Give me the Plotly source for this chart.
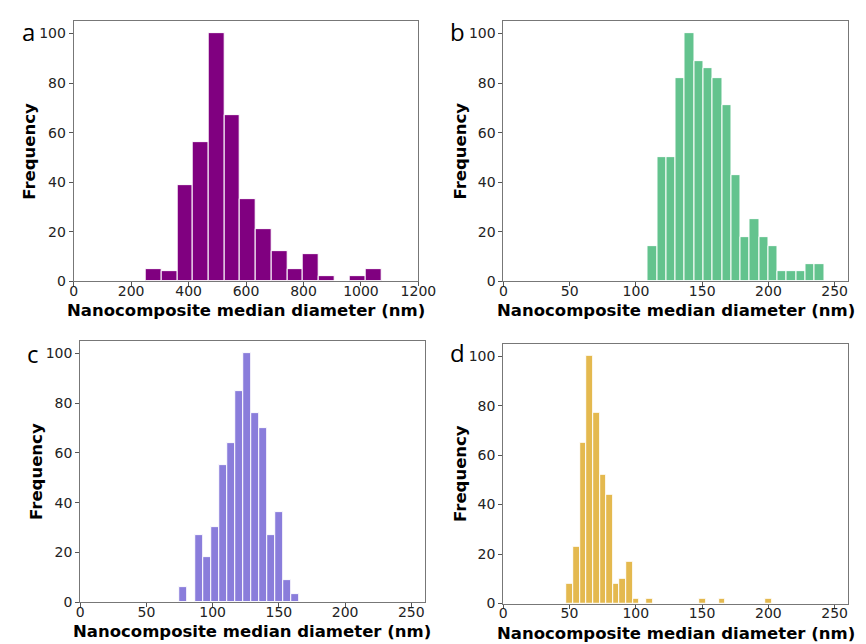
import plotly.graph_objects as go

W, H = 866, 644

# ---- data (histogram counts) ----
a_bin_start, a_bin_width = 251.0, 54.7
a_counts = [5, 4, 39, 56, 100, 67, 33, 21, 12, 5, 11, 2, 0, 2, 5]

b_bin_start, b_bin_width = 109.0, 7.0
b_counts = [14, 50, 50, 82, 100, 89, 86, 82, 71, 43, 18, 25, 18, 14, 4, 4, 4, 7, 7]

c_bin_start, c_bin_width = 75.0, 6.0
c_counts = [6, 0, 27, 18, 30, 55, 64, 85, 100, 76, 70, 27, 36, 9, 3]

d_bin_start, d_bin_width = 47.8, 5.0
d_counts = [8, 23, 65, 100, 77, 52, 44, 8, 10, 17, 2, 0, 2, 0, 0, 0, 0, 0, 0, 0,
            2, 0, 0, 2, 0, 0, 0, 0, 0, 0, 2]

panel_letters = ["a", "b", "c", "d"]
x_title = "Nanocomposite median diameter (nm)"
y_title = "Frequency"
y_ticks = [0, 20, 40, 60, 80, 100]
a_x_ticks = [0, 200, 400, 600, 800, 1000, 1200]
bcd_x_ticks = [0, 50, 100, 150, 200, 250]

colors = ["#800080", "#63c38e", "#8a7ddb", "#e4b94f"]

# plot-area pixel boxes: (left, right, top, bottom)
boxes = [
    (63.3, 417.0, 13.3, 276.7),
    (504.3, 857.7, 13.3, 276.7),
    (70.0, 423.3, 337.3, 601.5),
    (504.0, 857.7, 340.0, 603.0),
]
xranges = [[0, 1200], [0, 260], [0, 260], [0, 260]]
xticks = [a_x_ticks, bcd_x_ticks, bcd_x_ticks, bcd_x_ticks]
panels = [
    (a_bin_start, a_bin_width, a_counts),
    (b_bin_start, b_bin_width, b_counts),
    (c_bin_start, c_bin_width, c_counts),
    (d_bin_start, d_bin_width, d_counts),
]
letter_pos = [(17, 24), (457, 24), (22, 350), (457, 349)]
ylab_x = [18, 460, 25, 460]
xlab_y = [306, 306, 631, 633]

fig = go.Figure()
layout = dict(
    width=W, height=H, margin=dict(l=0, r=0, t=0, b=0),
    paper_bgcolor="white", plot_bgcolor="white", showlegend=False,
    bargap=0, annotations=[],
)

for i, ((start, width, counts), box) in enumerate(zip(panels, boxes)):
    n = "" if i == 0 else str(i + 1)
    centers = [start + width * (k + 0.5) for k in range(len(counts))]
    fig.add_trace(go.Bar(
        x=centers, y=counts, width=[width] * len(counts),
        marker=dict(color=colors[i], line=dict(color="white", width=1)),
        xaxis="x" + n, yaxis="y" + n, hoverinfo="x+y",
    ))
    l, r, t, b = box
    axstyle = dict(
        showline=True, linecolor="#777", linewidth=1, mirror=True,
        ticks="outside", ticklen=4, tickcolor="#555", tickwidth=1,
        showgrid=False, zeroline=False,
        tickfont=dict(family="DejaVu Sans", size=14, color="#222"),
    )
    layout["xaxis" + n] = dict(
        domain=[l / W, r / W], range=xranges[i], tickvals=xticks[i],
        anchor="y" + n, ticklabelstandoff=-7, **axstyle)
    layout["yaxis" + n] = dict(
        domain=[1 - b / H, 1 - t / H], range=[0, 105], tickvals=y_ticks,
        anchor="x" + n, ticklabelstandoff=0, **axstyle)
    # axis titles
    layout["annotations"].append(dict(
        text="<b>%s</b>" % x_title, xref="paper", yref="paper",
        x=(l + r) / 2 / W, y=1 - xlab_y[i] / H, showarrow=False,
        xanchor="center", yanchor="middle",
        font=dict(family="DejaVu Sans", size=16.5, color="black")))
    layout["annotations"].append(dict(
        text="<b>%s</b>" % y_title, xref="paper", yref="paper",
        x=ylab_x[i] / W, y=1 - (t + b) / 2 / H, showarrow=False, textangle=-90,
        xanchor="center", yanchor="middle",
        font=dict(family="DejaVu Sans", size=16.5, color="black")))
    lx, ly = letter_pos[i]
    layout["annotations"].append(dict(
        text=panel_letters[i], xref="paper", yref="paper",
        x=lx / W, y=1 - ly / H, showarrow=False,
        xanchor="center", yanchor="middle",
        font=dict(family="Open Sans", size=24, color="black")))

fig.update_layout(**layout)
fig.write_html("out.html")
